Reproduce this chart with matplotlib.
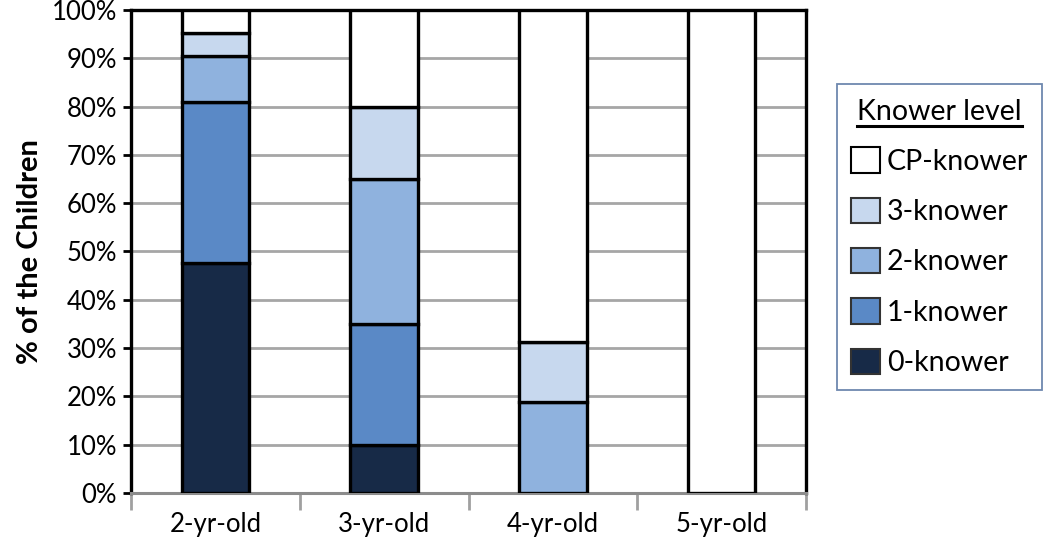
import numpy as np
import matplotlib
matplotlib.use('Agg')
import matplotlib.pyplot as plt
from matplotlib.patches import Patch
from matplotlib.lines import Line2D


# ---------------- Data ---------------- #

ages = ['2-yr-old', '3-yr-old', '4-yr-old', '5-yr-old']
levels = ['0-knower', '1-knower', '2-knower', '3-knower', 'CP-knower']

# percent of children at each knower level, per age group
zero_k = [47.6, 10.0, 0.0, 0.0]
one_k = [33.3, 25.0, 0.0, 0.0]
two_k = [9.5, 30.0, 18.75, 0.0]
three_k = [4.8, 15.0, 12.5, 0.0]
cp_k = [4.8, 20.0, 68.75, 100.0]

yticks = [0, 10, 20, 30, 40, 50, 60, 70, 80, 90, 100]

colors = ['#172a47', '#5a89c6', '#8fb2de', '#c7d8ee', '#ffffff']


# ---------------- Plot ---------------- #

plt.rcParams['font.family'] = ['Lato', 'DejaVu Sans']

fig = plt.figure(figsize=(10.5, 5.52), dpi=100)
ax = fig.add_axes([0.1248, 0.1069, 0.7676 - 0.1248, 0.9819 - 0.1069])

x = np.arange(len(ages))
series = [zero_k, one_k, two_k, three_k, cp_k]
bottom = np.zeros(len(ages))
for vals, col, lab in zip(series, colors, levels):
    vals = np.array(vals)
    ax.bar(x, vals, width=0.4, bottom=bottom, color=col, edgecolor='black',
           linewidth=2.4, label=lab, zorder=3)
    bottom += vals

ax.set_xlim(-0.5, len(ages) - 0.5)
ax.set_ylim(0, 100)
ax.set_yticks(yticks)
ax.set_yticklabels(['%d%%' % v for v in yticks], fontsize=18.5)
ax.set_xticks(x)
ax.set_xticklabels(ages, fontsize=18.5)
ax.set_xticks(np.arange(len(ages) + 1) - 0.5, minor=True)

ax.tick_params(axis='x', which='major', length=0, pad=14)
ax.tick_params(axis='x', which='minor', length=12, width=2, color='#a0a0a0',
               direction='out')
ax.tick_params(axis='y', length=6, width=2, color='black', pad=4)

ax.yaxis.grid(True, color='#a6a6a6', linewidth=2, zorder=0)
ax.set_axisbelow(True)

for s in ['left', 'top', 'right']:
    ax.spines[s].set_color('black')
    ax.spines[s].set_linewidth(2.4)
ax.spines['bottom'].set_color('#8c8c8c')
ax.spines['bottom'].set_linewidth(2.2)

ax.set_ylabel('% of the Children', fontsize=21, fontweight='bold', labelpad=6)

# legend, top entry first
handles = []
for col, lab in zip(colors[::-1], levels[::-1]):
    ec = 'black' if col == '#ffffff' else '#333333'
    handles.append(Patch(facecolor=col, edgecolor=ec, linewidth=1.5, label=lab))

leg = fig.legend(handles=handles, title='Knower level', loc='center left',
                 bbox_to_anchor=(0.797, 0.57), fontsize=20.5, title_fontsize=20.5,
                 frameon=True, fancybox=False, handlelength=1.0,
                 handleheight=1.0, handletextpad=0.25, labelspacing=0.8,
                 borderpad=0.5, borderaxespad=0)
leg.get_frame().set_edgecolor('#4a6a9b')
leg.get_frame().set_linewidth(1.3)

# underline the legend title
fig.canvas.draw()
bb = leg.get_title().get_window_extent().transformed(fig.transFigure.inverted())
fig.add_artist(Line2D([bb.x0, bb.x1], [bb.y0 - 0.002, bb.y0 - 0.002],
                      transform=fig.transFigure, color='black', linewidth=2.2,
                      zorder=10))

fig.savefig('out.png', dpi=100)
